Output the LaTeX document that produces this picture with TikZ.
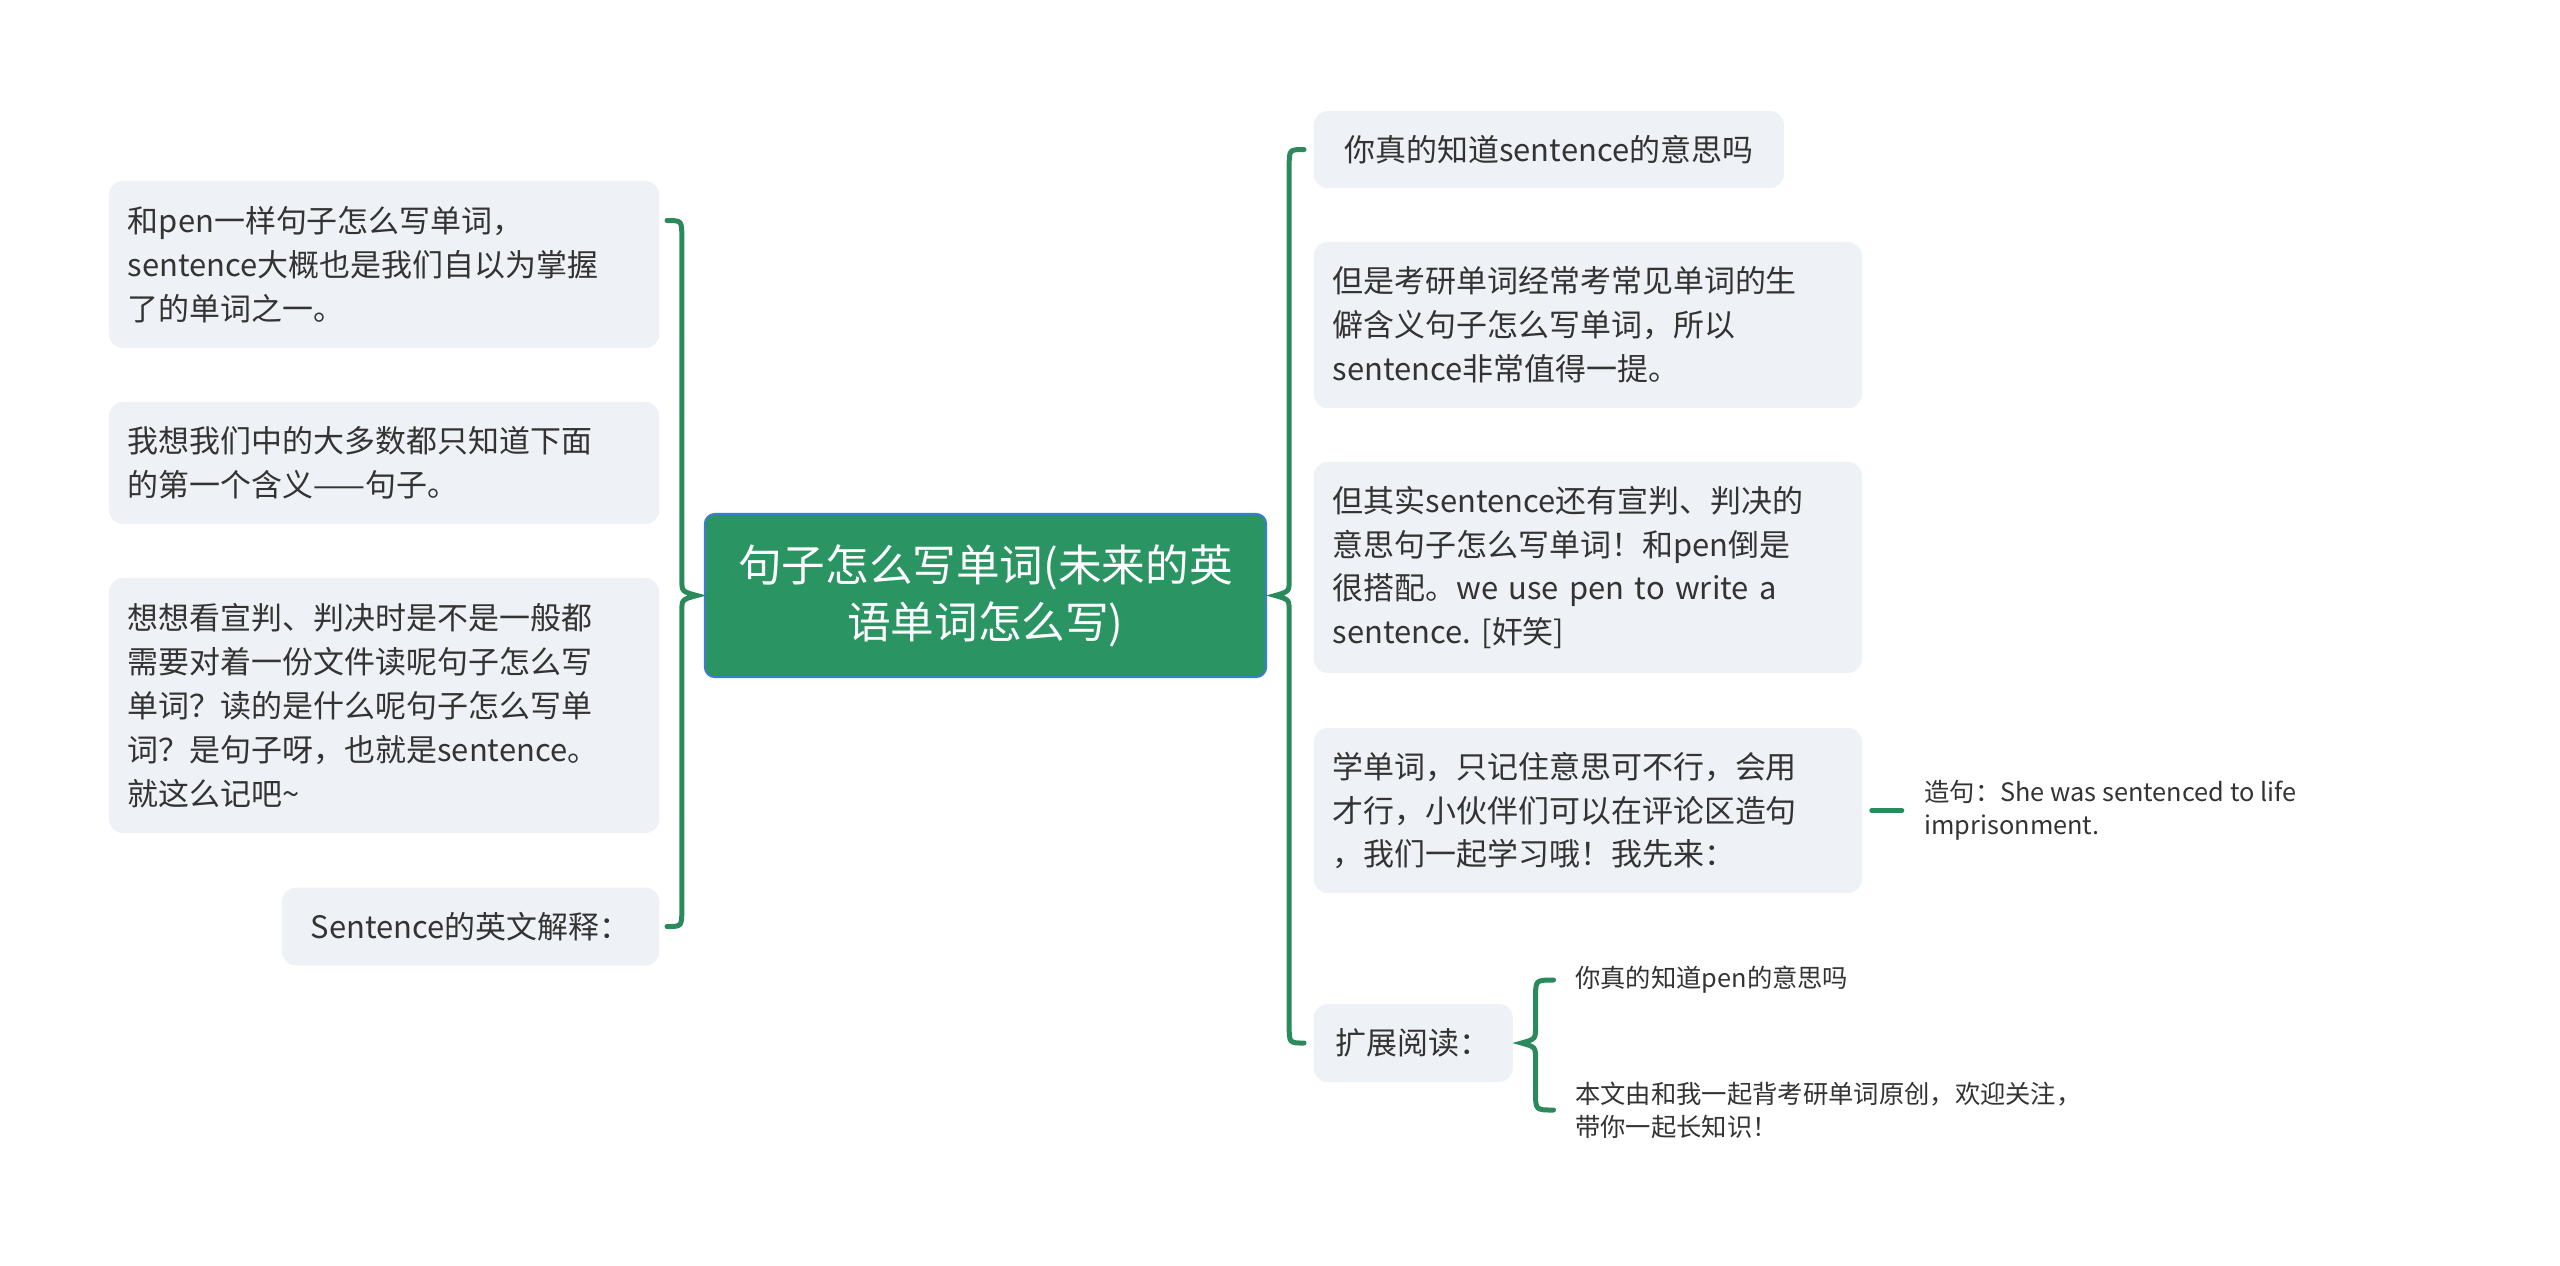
\documentclass[tikz,border=0pt]{standalone}
\usepackage{fontspec}
\newfontfamily\cjk{Noto Sans CJK SC}
\usepackage{tikz}
\usetikzlibrary{calc}
\usetikzlibrary{positioning}
\definecolor{mapgreen}{HTML}{2A9462}
\definecolor{linegreen}{HTML}{2B8A5B}
\definecolor{rootblue}{HTML}{3B7DCC}
\definecolor{topicgray}{HTML}{EEF1F5}
\definecolor{textgray}{HTML}{333333}
\tikzset{root/.style={rectangle,rounded corners=0.1cm,draw=rootblue,line width=0.02cm,fill=mapgreen,text=white,align=center,minimum width=5.61cm,minimum height=1.63cm,font={\cjk\fontsize{12.4pt}{16.2pt}\selectfont}}}
\tikzset{topic/.style={rectangle,rounded corners=0.14cm,fill=topicgray,text=textgray,align=left,inner xsep=0.19cm,inner ysep=0.1cm,font={\cjk\fontsize{8.8pt}{12.5pt}\selectfont}}}
\tikzset{note/.style={inner sep=0pt,text=textgray,align=left,font={\cjk\fontsize{7.2pt}{9.4pt}\selectfont}}}
\tikzset{brace/.style={draw=linegreen,line width=0.05cm,line cap=round}}

\begin{document}
\begin{tikzpicture}[x=0.01cm,y=-0.01cm]
\useasboundingbox (0,0) rectangle (2560,1265);

\node[root] (root) at (985.5,595.5) {句子怎么写单词(未来的英\\语单词怎么写)};

% left side
\foreach \n/\y/\h/\t in {L1/264.5/1.67/{和pen一样句子怎么写单词，\\sentence大概也是我们自以为掌握\\了的单词之一。},
	L2/463/1.22/{我想我们中的大多数都只知道下面\\的第一个含义——句子。},
	L3/705.5/2.55/{想想看宣判、判决时是不是一般都\\需要对着一份文件读呢句子怎么写\\单词？读的是什么呢句子怎么写单\\词？是句子呀，也就是sentence。\\就这么记吧\textasciitilde}}
{
	\node[topic,anchor=east,text width=5.12cm,minimum height=\h cm] (\n) at (660,\y) {\t};
}
\node[topic,anchor=east,minimum width=3.77cm,minimum height=0.78cm] (L4) at (660,926.5) {Sentence的英文解释：};

% right side
\node[topic,anchor=west,minimum width=4.70cm,minimum height=0.77cm] (R1) at (1313,149.5) {你真的知道sentence的意思吗};
\foreach \n/\y/\h/\t in {R2/325/1.66/{但是考研单词经常考常见单词的生\\僻含义句子怎么写单词，所以\\sentence非常值得一提。},
	R3/567.5/2.11/{但其实sentence还有宣判、判决的\\意思句子怎么写单词！和pen倒是\\很搭配。we use pen to write a\\sentence.\ [奸笑]},
	R4/810.5/1.65/{学单词，只记住意思可不行，会用\\才行，小伙伴们可以在评论区造句\\，我们一起学习哦！我先来：}}
{
	\node[topic,anchor=west,text width=5.10cm,minimum height=\h cm] (\n) at (1313,\y) {\t};
}
\node[topic,anchor=west,minimum width=1.99cm,minimum height=0.78cm] (R5) at (1313,1043) {扩展阅读：};

\node[note,anchor=west,right=0.61cm of R4] (S1) {造句：She was sentenced to life\\imprisonment.};
\node[note,anchor=west] (C1) at ($(R5.east)+(61,-63)$) {你真的知道pen的意思吗};
\node[note,anchor=west] (C2) at ($(R5.east)+(61,67)$) {本文由和我一起背考研单词原创，欢迎关注，\\带你一起长知识！};

% braces
\coordinate (lv) at ($(root.west)+(-22,0)$);
\coordinate (rv) at ($(root.east)+(22,0)$);
\coordinate (cv) at ($(R5.east)+(22,0)$);

\draw[brace] ($(L1.east)+(7,-44)$) .. controls ($(L1.east -| lv)+(0,-44)$) .. ($(L1.east -| lv)+(0,-26)$)
	-- ($(lv)+(0,-16)$) .. controls ($(lv)+(0,-4)$) .. ($(root.west)+(-7,0)$)
	.. controls ($(lv)+(0,4)$) .. ($(lv)+(0,16)$)
	-- ($(L4.east -| lv)+(0,-18)$) .. controls (L4.east -| lv) .. ($(L4.east)+(7,0)$);

\draw[brace] ($(R1.west)+(-9,0)$) .. controls (R1.west -| rv) .. ($(R1.west -| rv)+(0,18)$)
	-- ($(rv)+(0,-16)$) .. controls ($(rv)+(0,-4)$) .. ($(root.east)+(8,0)$)
	.. controls ($(rv)+(0,4)$) .. ($(rv)+(0,16)$)
	-- ($(R5.west -| rv)+(0,-18)$) .. controls (R5.west -| rv) .. ($(R5.west)+(-9,0)$);

\draw[brace] ($(C1.west)+(-21,0)$) .. controls (C1.west -| cv) .. ($(C1.west -| cv)+(0,18)$)
	-- ($(cv)+(0,-16)$) .. controls ($(cv)+(0,-4)$) .. ($(R5.east)+(8,0)$)
	.. controls ($(cv)+(0,4)$) .. ($(cv)+(0,16)$)
	-- ($(C2.west -| cv)+(0,-18)$) .. controls (C2.west -| cv) .. ($(C2.west)+(-21,0)$);

\draw[brace,shorten <=0.09cm,shorten >=0.22cm] (R4.east) -- (S1.west);

\end{tikzpicture}
\end{document}
